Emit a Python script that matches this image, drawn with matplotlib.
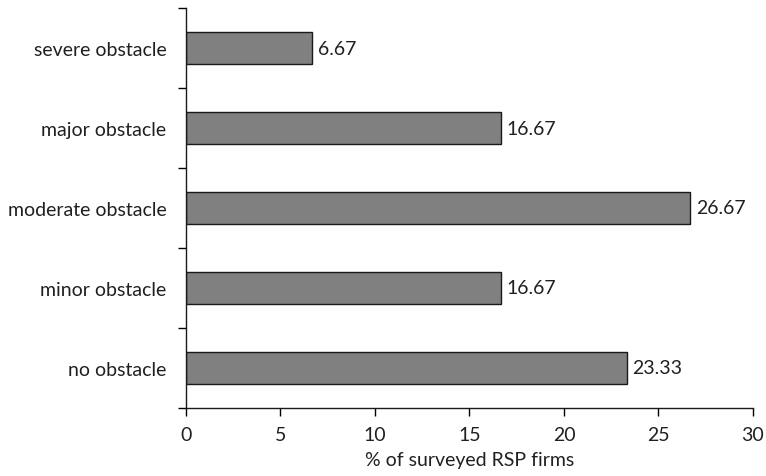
import matplotlib.pyplot as plt
import numpy as np

categories = ["no obstacle", "minor obstacle", "moderate obstacle",
              "major obstacle", "severe obstacle"]
values = [23.33, 16.67, 26.67, 16.67, 6.67]
x_ticks = [0, 5, 10, 15, 20, 25, 30]

plt.rcParams["font.family"] = ["Lato", "DejaVu Sans"]
fs = 14
txt = "#231f20"

fig = plt.figure(figsize=(7.66, 4.77), dpi=100)
ax = fig.add_axes([0.2428, 0.1426, 0.7402, 0.8385])

pos = np.arange(len(categories))
ax.barh(pos, values, height=0.4, color="#808080", edgecolor="#1a1a1a", linewidth=1)

for p, v in zip(pos, values):
    ax.text(v + 0.3, p, f"{v:.2f}", va="center", ha="left", fontsize=fs, color=txt)

ax.set_xlim(0, 30)
ax.set_ylim(-0.5, 4.5)
ax.set_xticks(x_ticks)
ax.set_xticklabels([str(t) for t in x_ticks], fontsize=fs, color=txt)
ax.set_yticks(pos)
ax.set_yticklabels(categories, fontsize=fs, color=txt)
ax.tick_params(axis="y", length=0, pad=14)
ax.set_yticks(np.arange(-0.5, 5.0, 1), minor=True)
ax.tick_params(axis="y", which="minor", length=6, width=1, direction="out")
ax.tick_params(axis="x", length=6, width=1, direction="out", pad=7)
ax.set_xlabel("% of surveyed RSP firms", fontsize=fs, color=txt, labelpad=6)

for s in ["top", "right"]:
    ax.spines[s].set_visible(False)
for s in ["left", "bottom"]:
    ax.spines[s].set_linewidth(1)
    ax.spines[s].set_color("#1a1a1a")

fig.savefig("out.png", dpi=100)
